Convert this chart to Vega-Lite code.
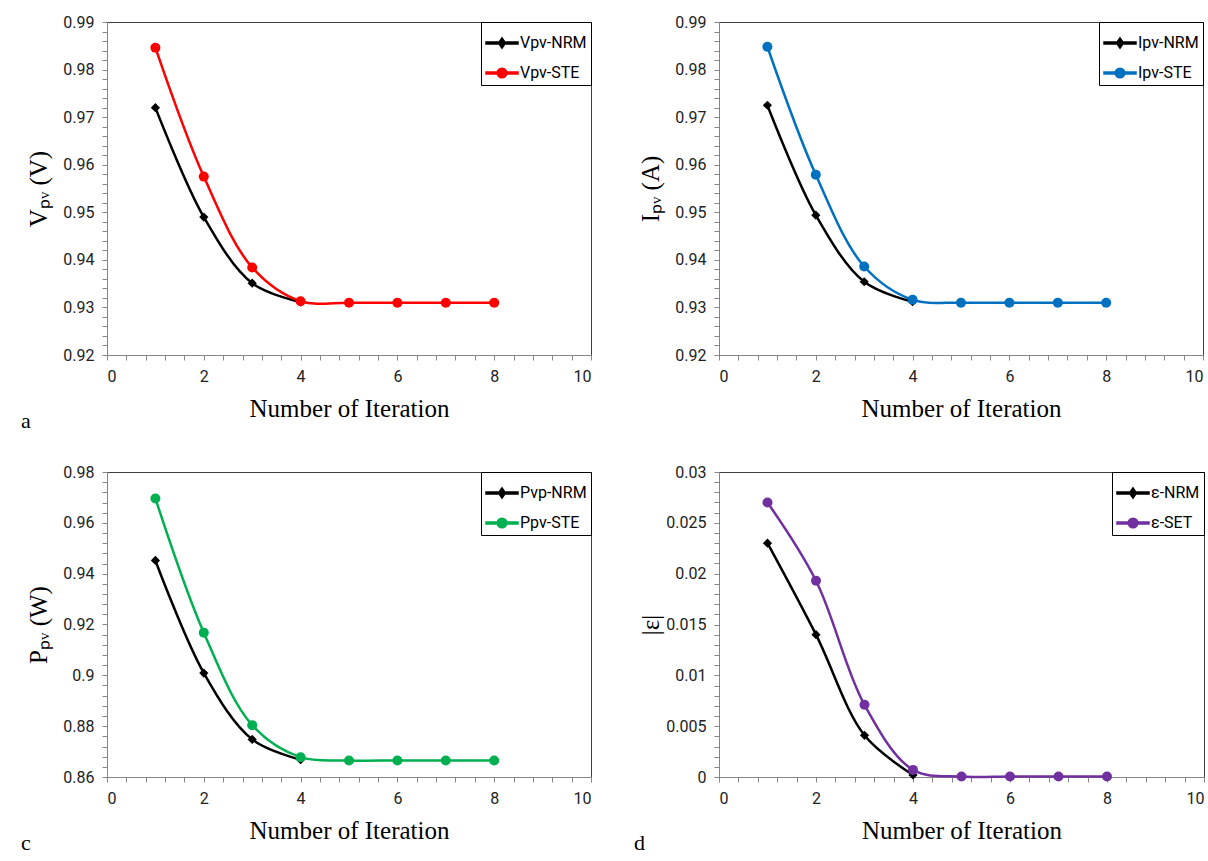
{
  "$schema": "https://vega.github.io/schema/vega-lite/v6.json",
  "padding": {"left": 20, "top": 13, "right": 0, "bottom": 0},
  "background": "white",
  "config": {
    "view": {"stroke": "#404040", "strokeWidth": 1},
    "axis": {"grid": false, "domainColor": "#868686", "tickColor": "#868686", "tickSize": 5, "labelFont": "Liberation Sans Narrow, Roboto, sans-serif", "labelFontSize": 16, "labelColor": "#222222", "titleFont": "Liberation Serif", "titleFontWeight": "normal", "titleColor": "#000000", "titleFontSize": 25, "labelOverlap": false},
    "axisX": {"labelPadding": 8, "titlePadding": 12},
    "axisY": {"labelPadding": 8, "minExtent": 50, "maxExtent": 50, "titlePadding": 6},
    "legend": {"orient": "top-right", "offset": 0, "padding": 4, "strokeColor": "#000000", "fillColor": "#ffffff", "labelFont": "Liberation Sans Narrow, Roboto, sans-serif", "labelFontSize": 16, "labelColor": "#000000", "symbolSize": 1024, "rowPadding": 4, "labelOffset": 1},
    "title": {"font": "Liberation Serif", "fontSize": 22, "fontWeight": "normal", "color": "#000000"}
  },
  "datasets": {
    "a": [
      {"iter": 1, "value": 0.9720, "series": "Vpv-NRM"},
      {"iter": 2, "value": 0.9490, "series": "Vpv-NRM"},
      {"iter": 3, "value": 0.9351, "series": "Vpv-NRM"},
      {"iter": 4, "value": 0.9311, "series": "Vpv-NRM"},
      {"iter": 1, "value": 0.9846, "series": "Vpv-STE"},
      {"iter": 2, "value": 0.9575, "series": "Vpv-STE"},
      {"iter": 3, "value": 0.9384, "series": "Vpv-STE"},
      {"iter": 4, "value": 0.9313, "series": "Vpv-STE"},
      {"iter": 5, "value": 0.9310, "series": "Vpv-STE"},
      {"iter": 6, "value": 0.9310, "series": "Vpv-STE"},
      {"iter": 7, "value": 0.9310, "series": "Vpv-STE"},
      {"iter": 8, "value": 0.9310, "series": "Vpv-STE"}
    ],
    "b": [
      {"iter": 1, "value": 0.9725, "series": "Ipv-NRM"},
      {"iter": 2, "value": 0.9494, "series": "Ipv-NRM"},
      {"iter": 3, "value": 0.9354, "series": "Ipv-NRM"},
      {"iter": 4, "value": 0.9312, "series": "Ipv-NRM"},
      {"iter": 1, "value": 0.9848, "series": "Ipv-STE"},
      {"iter": 2, "value": 0.9579, "series": "Ipv-STE"},
      {"iter": 3, "value": 0.9386, "series": "Ipv-STE"},
      {"iter": 4, "value": 0.9316, "series": "Ipv-STE"},
      {"iter": 5, "value": 0.9310, "series": "Ipv-STE"},
      {"iter": 6, "value": 0.9310, "series": "Ipv-STE"},
      {"iter": 7, "value": 0.9310, "series": "Ipv-STE"},
      {"iter": 8, "value": 0.9310, "series": "Ipv-STE"}
    ],
    "c": [
      {"iter": 1, "value": 0.9452, "series": "Pvp-NRM"},
      {"iter": 2, "value": 0.9009, "series": "Pvp-NRM"},
      {"iter": 3, "value": 0.8748, "series": "Pvp-NRM"},
      {"iter": 4, "value": 0.8668, "series": "Pvp-NRM"},
      {"iter": 1, "value": 0.9696, "series": "Ppv-STE"},
      {"iter": 2, "value": 0.9168, "series": "Ppv-STE"},
      {"iter": 3, "value": 0.8804, "series": "Ppv-STE"},
      {"iter": 4, "value": 0.8678, "series": "Ppv-STE"},
      {"iter": 5, "value": 0.8665, "series": "Ppv-STE"},
      {"iter": 6, "value": 0.8665, "series": "Ppv-STE"},
      {"iter": 7, "value": 0.8665, "series": "Ppv-STE"},
      {"iter": 8, "value": 0.8665, "series": "Ppv-STE"}
    ],
    "d": [
      {"iter": 1, "value": 0.0230, "series": "ε-NRM"},
      {"iter": 2, "value": 0.0140, "series": "ε-NRM"},
      {"iter": 3, "value": 0.0041, "series": "ε-NRM"},
      {"iter": 4, "value": 0.0002, "series": "ε-NRM"},
      {"iter": 1, "value": 0.0270, "series": "ε-SET"},
      {"iter": 2, "value": 0.0193, "series": "ε-SET"},
      {"iter": 3, "value": 0.0071, "series": "ε-SET"},
      {"iter": 4, "value": 0.0007, "series": "ε-SET"},
      {"iter": 5, "value": 0.00005, "series": "ε-SET"},
      {"iter": 6, "value": 0.00005, "series": "ε-SET"},
      {"iter": 7, "value": 0.00005, "series": "ε-SET"},
      {"iter": 8, "value": 0.00005, "series": "ε-SET"}
    ]
  },
  "columns": 2,
  "spacing": {"row": 117, "column": 128},
  "bounds": "flush",
  "resolve": {"scale": {"color": "independent", "x": "independent", "y": "independent"}, "legend": {"color": "independent"}},
  "concat": [
    {
      "width": 484, "height": 333,
      "title": {"text": "a", "orient": "bottom", "anchor": "start", "frame": "group", "dx": -86, "dy": -10, "offset": 0},
      "data": {"name": "a"},
      "encoding": {
        "x": {"field": "iter", "type": "quantitative", "scale": {"domain": [0, 10], "nice": false}, "axis": {"title": "Number of Iteration", "values": [0,0.4,0.8,1.2,1.6,2,2.4,2.8,3.2,3.6,4,4.4,4.8,5.2,5.6,6,6.4,6.8,7.2,7.6,8,8.4,8.8,9.2,9.6,10], "labelExpr": "abs(datum.value/2 - round(datum.value/2)) < 1e-6 ? format(datum.value, 'd') : ''"}},
        "y": {"field": "value", "type": "quantitative", "scale": {"domain": [0.92, 0.99], "nice": false, "zero": false}, "axis": {"title": "Vₚᵥ (V)", "values": [0.92,0.922,0.924,0.926,0.928,0.93,0.932,0.934,0.936,0.938,0.94,0.942,0.944,0.946,0.948,0.95,0.952,0.954,0.956,0.958,0.96,0.962,0.964,0.966,0.968,0.97,0.972,0.974,0.976,0.978,0.98,0.982,0.984,0.986,0.988,0.99], "labelExpr": "abs(datum.value*100 - round(datum.value*100)) < 1e-6 ? format(datum.value, '.2~f') : ''"}},
        "color": {"field": "series", "type": "nominal", "scale": {"domain": ["Vpv-NRM", "Vpv-STE"], "range": ["#000000", "#FF0000"]}, "legend": {"title": null, "encode": {"symbols": {"update": {"shape": {"signal": "test(/NRM/, datum.value) ? 'M-1,-0.07H1V0.07H-1Z M0,-0.32L0.22,0L0,0.32L-0.22,0Z' : 'M-1,-0.07H1V0.07H-1Z M0.3,0A0.3,0.3,0,1,1,-0.3,0A0.3,0.3,0,1,1,0.3,0Z'"}, "fill": {"signal": "test(/NRM/, datum.value) ? '#000000' : '#FF0000'"}, "stroke": {"value": "transparent"}, "opacity": {"value": 1}}}}}}
      },
      "layer": [
        {"mark": {"type": "line", "interpolate": "catmull-rom", "strokeWidth": 2.5}},
        {"transform": [{"filter": "test(/NRM/, datum.series)"}], "mark": {"type": "point", "filled": true, "opacity": 1, "size": 85, "shape": "diamond"}},
        {"transform": [{"filter": "!test(/NRM/, datum.series)"}], "mark": {"type": "point", "filled": true, "opacity": 1, "size": 100, "shape": "circle"}}
      ]
    },
    {
      "width": 484, "height": 333,
      "data": {"name": "b"},
      "encoding": {
        "x": {"field": "iter", "type": "quantitative", "scale": {"domain": [0, 10], "nice": false}, "axis": {"title": "Number of Iteration", "values": [0,0.4,0.8,1.2,1.6,2,2.4,2.8,3.2,3.6,4,4.4,4.8,5.2,5.6,6,6.4,6.8,7.2,7.6,8,8.4,8.8,9.2,9.6,10], "labelExpr": "abs(datum.value/2 - round(datum.value/2)) < 1e-6 ? format(datum.value, 'd') : ''"}},
        "y": {"field": "value", "type": "quantitative", "scale": {"domain": [0.92, 0.99], "nice": false, "zero": false}, "axis": {"title": "Iₚᵥ (A)", "values": [0.92,0.922,0.924,0.926,0.928,0.93,0.932,0.934,0.936,0.938,0.94,0.942,0.944,0.946,0.948,0.95,0.952,0.954,0.956,0.958,0.96,0.962,0.964,0.966,0.968,0.97,0.972,0.974,0.976,0.978,0.98,0.982,0.984,0.986,0.988,0.99], "labelExpr": "abs(datum.value*100 - round(datum.value*100)) < 1e-6 ? format(datum.value, '.2~f') : ''"}},
        "color": {"field": "series", "type": "nominal", "scale": {"domain": ["Ipv-NRM", "Ipv-STE"], "range": ["#000000", "#0070C0"]}, "legend": {"title": null, "encode": {"symbols": {"update": {"shape": {"signal": "test(/NRM/, datum.value) ? 'M-1,-0.07H1V0.07H-1Z M0,-0.32L0.22,0L0,0.32L-0.22,0Z' : 'M-1,-0.07H1V0.07H-1Z M0.3,0A0.3,0.3,0,1,1,-0.3,0A0.3,0.3,0,1,1,0.3,0Z'"}, "fill": {"signal": "test(/NRM/, datum.value) ? '#000000' : '#0070C0'"}, "stroke": {"value": "transparent"}, "opacity": {"value": 1}}}}}}
      },
      "layer": [
        {"mark": {"type": "line", "interpolate": "catmull-rom", "strokeWidth": 2.5}},
        {"transform": [{"filter": "test(/NRM/, datum.series)"}], "mark": {"type": "point", "filled": true, "opacity": 1, "size": 85, "shape": "diamond"}},
        {"transform": [{"filter": "!test(/NRM/, datum.series)"}], "mark": {"type": "point", "filled": true, "opacity": 1, "size": 100, "shape": "circle"}}
      ]
    },
    {
      "width": 484, "height": 305,
      "title": {"text": "c", "orient": "bottom", "anchor": "start", "frame": "group", "dx": -86, "dy": -10, "offset": 0},
      "data": {"name": "c"},
      "encoding": {
        "x": {"field": "iter", "type": "quantitative", "scale": {"domain": [0, 10], "nice": false}, "axis": {"title": "Number of Iteration", "values": [0,0.4,0.8,1.2,1.6,2,2.4,2.8,3.2,3.6,4,4.4,4.8,5.2,5.6,6,6.4,6.8,7.2,7.6,8,8.4,8.8,9.2,9.6,10], "labelExpr": "abs(datum.value/2 - round(datum.value/2)) < 1e-6 ? format(datum.value, 'd') : ''"}},
        "y": {"field": "value", "type": "quantitative", "scale": {"domain": [0.86, 0.98], "nice": false, "zero": false}, "axis": {"title": "Pₚᵥ (W)", "values": [0.86,0.864,0.868,0.872,0.876,0.88,0.884,0.888,0.892,0.896,0.9,0.904,0.908,0.912,0.916,0.92,0.924,0.928,0.932,0.936,0.94,0.944,0.948,0.952,0.956,0.96,0.964,0.968,0.972,0.976,0.98], "labelExpr": "abs(datum.value*50 - round(datum.value*50)) < 1e-6 ? format(datum.value, '.2~f') : ''"}},
        "color": {"field": "series", "type": "nominal", "scale": {"domain": ["Pvp-NRM", "Ppv-STE"], "range": ["#000000", "#00B050"]}, "legend": {"title": null, "encode": {"symbols": {"update": {"shape": {"signal": "test(/NRM/, datum.value) ? 'M-1,-0.07H1V0.07H-1Z M0,-0.32L0.22,0L0,0.32L-0.22,0Z' : 'M-1,-0.07H1V0.07H-1Z M0.3,0A0.3,0.3,0,1,1,-0.3,0A0.3,0.3,0,1,1,0.3,0Z'"}, "fill": {"signal": "test(/NRM/, datum.value) ? '#000000' : '#00B050'"}, "stroke": {"value": "transparent"}, "opacity": {"value": 1}}}}}}
      },
      "layer": [
        {"mark": {"type": "line", "interpolate": "catmull-rom", "strokeWidth": 2.5}},
        {"transform": [{"filter": "test(/NRM/, datum.series)"}], "mark": {"type": "point", "filled": true, "opacity": 1, "size": 85, "shape": "diamond"}},
        {"transform": [{"filter": "!test(/NRM/, datum.series)"}], "mark": {"type": "point", "filled": true, "opacity": 1, "size": 100, "shape": "circle"}}
      ]
    },
    {
      "width": 485, "height": 305,
      "title": {"text": "d", "orient": "bottom", "anchor": "start", "frame": "group", "dx": -85, "dy": -10, "offset": 0},
      "data": {"name": "d"},
      "encoding": {
        "x": {"field": "iter", "type": "quantitative", "scale": {"domain": [0, 10], "nice": false}, "axis": {"title": "Number of Iteration", "values": [0,0.4,0.8,1.2,1.6,2,2.4,2.8,3.2,3.6,4,4.4,4.8,5.2,5.6,6,6.4,6.8,7.2,7.6,8,8.4,8.8,9.2,9.6,10], "labelExpr": "abs(datum.value/2 - round(datum.value/2)) < 1e-6 ? format(datum.value, 'd') : ''"}},
        "y": {"field": "value", "type": "quantitative", "scale": {"domain": [0, 0.03], "nice": false, "zero": false}, "axis": {"title": "|ε|", "values": [0,0.001,0.002,0.003,0.004,0.005,0.006,0.007,0.008,0.009,0.01,0.011,0.012,0.013,0.014,0.015,0.016,0.017,0.018,0.019,0.02,0.021,0.022,0.023,0.024,0.025,0.026,0.027,0.028,0.029,0.03], "labelExpr": "abs(datum.value*200 - round(datum.value*200)) < 1e-6 ? format(datum.value, '.3~f') : ''"}},
        "color": {"field": "series", "type": "nominal", "scale": {"domain": ["ε-NRM", "ε-SET"], "range": ["#000000", "#7030A0"]}, "legend": {"title": null, "encode": {"symbols": {"update": {"shape": {"signal": "test(/NRM/, datum.value) ? 'M-1,-0.07H1V0.07H-1Z M0,-0.32L0.22,0L0,0.32L-0.22,0Z' : 'M-1,-0.07H1V0.07H-1Z M0.3,0A0.3,0.3,0,1,1,-0.3,0A0.3,0.3,0,1,1,0.3,0Z'"}, "fill": {"signal": "test(/NRM/, datum.value) ? '#000000' : '#7030A0'"}, "stroke": {"value": "transparent"}, "opacity": {"value": 1}}}}}}
      },
      "layer": [
        {"mark": {"type": "line", "interpolate": "catmull-rom", "strokeWidth": 2.5}},
        {"transform": [{"filter": "test(/NRM/, datum.series)"}], "mark": {"type": "point", "filled": true, "opacity": 1, "size": 85, "shape": "diamond"}},
        {"transform": [{"filter": "!test(/NRM/, datum.series)"}], "mark": {"type": "point", "filled": true, "opacity": 1, "size": 100, "shape": "circle"}}
      ]
    }
  ]
}
